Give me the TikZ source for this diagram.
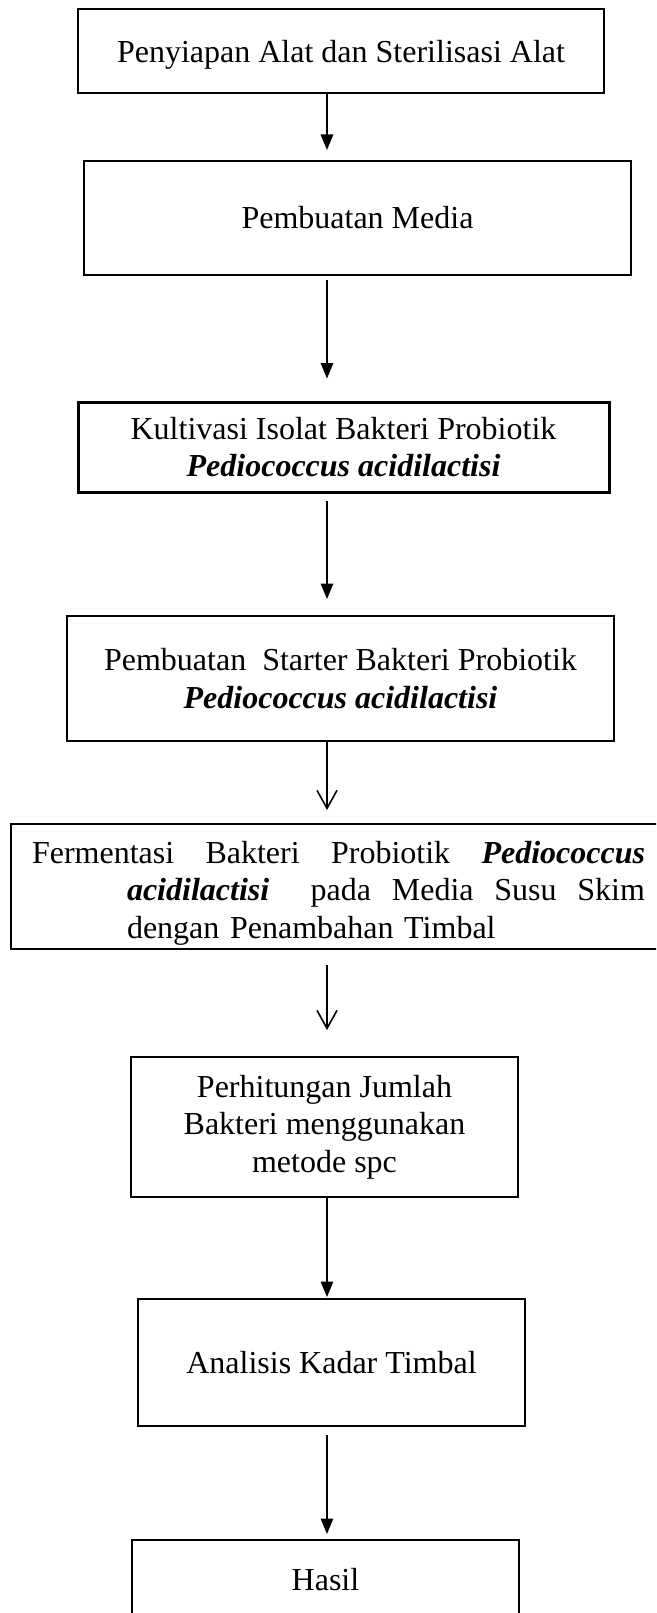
\documentclass[tikz,border=0pt]{standalone}
\usepackage{fontspec}
\setmainfont{Liberation Serif}
\usetikzlibrary{arrows.meta}

\begin{document}
\begin{tikzpicture}[x=1pt, y=-1pt, font=\fontsize{32}{37.5}\selectfont,
    box/.style={draw, line width=2pt, align=center, inner sep=0pt},
    flow/.style={-{Triangle[length=15.5pt, width=12.5pt]}, line width=1.6pt},
    flowopen/.style={-{Straight Barb[length=18pt, width=20pt]}, line width=1.6pt}]
        \useasboundingbox (0,0) rectangle (656,1613);
        \clip (0,0) rectangle (656,1613);
        \coordinate (spine) at (327,0);
        \node[box, minimum width=526pt, minimum height=84pt, text depth=0pt] (prep) at (341,51) {Penyiapan Alat dan Sterilisasi Alat};
        \node[box, minimum width=547pt, minimum height=114pt] (media) at (357.5,218) {Pembuatan Media};
        \node[box, line width=3pt, minimum width=531pt, minimum height=90pt] (kultur) at (343.5,447) {Kultivasi Isolat Bakteri Probiotik\\ \textbf{\textit{Pediococcus acidilactisi}}};
        \node[box, minimum width=547pt, minimum height=125pt] (starter) at (340.5,678.5) {Pembuatan\ \ Starter Bakteri Probiotik\\ \textbf{\textit{Pediococcus acidilactisi}}};
        \node[box, anchor=north west, inner xsep=21pt, text width=660pt, align=left, minimum height=125pt] (ferment) at (10,823) {\rule{0pt}{35pt}\makebox[613pt][s]{Fermentasi\hfill Bakteri\hfill Probiotik\hfill \textbf{\textit{Pediococcus}}}\\ \hspace*{95pt}\makebox[518pt][s]{\textbf{\textit{acidilactisi}}\hfill\hfill pada\hfill Media\hfill Susu\hfill Skim}\\ \hspace*{95pt}dengan Penambahan Timbal};
        \node[box, minimum width=387pt, minimum height=140pt] (hitung) at (324.5,1127) {Perhitungan Jumlah\\ Bakteri menggunakan\\ metode spc};
        \node[box, minimum width=387pt, minimum height=127pt] (analisis) at (331.5,1362.5) {Analisis Kadar Timbal};
        \node[box, minimum width=387pt, minimum height=80pt] (hasil) at (325.5,1580) {Hasil};
        \draw[flow, shorten >=10pt] (prep.south -| spine) -- (media.north -| spine);
        \draw[flow, shorten <=4pt, shorten >=22pt] (media.south -| spine) -- (kultur.north -| spine);
        \draw[flow, shorten <=7pt, shorten >=16pt] (kultur.south -| spine) -- (starter.north -| spine);
        \draw[flowopen, shorten >=13pt] (starter.south -| spine) -- (ferment.north -| spine);
        \draw[flowopen, shorten <=15pt, shorten >=26pt] (ferment.south -| spine) -- (hitung.north -| spine);
        \draw[flow, shorten >=1pt] (hitung.south -| spine) -- (analisis.north -| spine);
        \draw[flow, shorten <=8pt, shorten >=5pt] (analisis.south -| spine) -- (hasil.north -| spine);
      \end{tikzpicture}
\end{document}
